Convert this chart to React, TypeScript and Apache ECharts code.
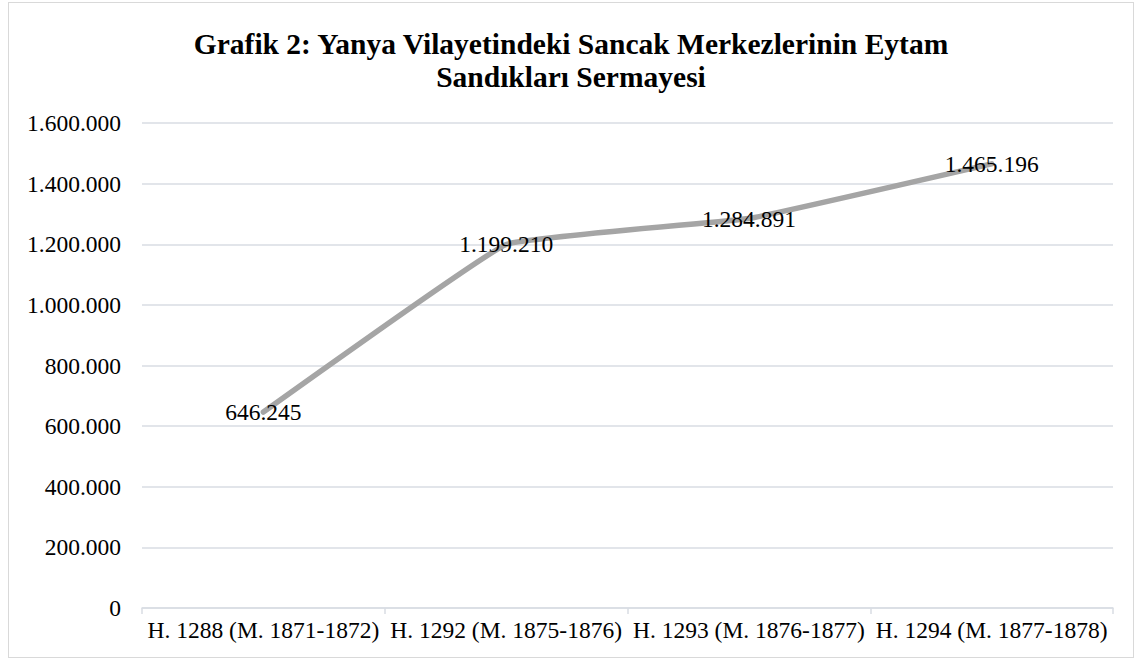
import React, { useEffect, useRef } from "react";
import * as echarts from "echarts";

const titleLines = [
  "Grafik 2: Yanya Vilayetindeki Sancak Merkezlerinin Eytam",
  "Sandıkları Sermayesi",
];
const categories = [
  "H. 1288 (M. 1871-1872)",
  "H. 1292 (M. 1875-1876)",
  "H. 1293 (M. 1876-1877)",
  "H. 1294 (M. 1877-1878)",
];
const capitalValues = [646245, 1199210, 1284891, 1465196];
const yMin = 0;
const yMax = 1600000;
const yStep = 200000;

const fmt = (v: number) =>
  String(Math.round(v)).replace(/\B(?=(\d{3})+(?!\d))/g, ".");

const FONT = "'Times New Roman', 'Liberation Serif', 'DejaVu Serif', serif";

export default function App() {
  const ref = useRef<HTMLDivElement>(null);
  useEffect(() => {
    if (!ref.current) return;
    const chart = echarts.init(ref.current, undefined, { renderer: "svg" });
    chart.setOption({
      animation: false,
      backgroundColor: "#ffffff",
      title: {
        text: titleLines.join("\n"),
        left: "center",
        top: 19,
        textStyle: {
          fontFamily: FONT,
          fontWeight: "bold",
          fontSize: 29.5,
          lineHeight: 33,
          color: "#000",
        },
      },
      grid: {
        left: 133,
        right: 20,
        top: 120,
        bottom: 49,
        containLabel: false,
        outerBoundsMode: "none",
      },
      xAxis: {
        type: "category",
        data: categories,
        boundaryGap: true,
        axisLine: { show: true, lineStyle: { color: "#d9dde3", width: 1.5 } },
        axisTick: { show: true, length: 6, lineStyle: { color: "#d9dde3", width: 1.5 } },
        axisLabel: {
          interval: 0,
          margin: 10,
          fontFamily: FONT,
          fontSize: 23.5,
          color: "#000",
        },
        splitLine: { show: false },
      },
      yAxis: {
        type: "value",
        min: yMin,
        max: yMax,
        interval: yStep,
        axisLine: { show: false },
        axisTick: { show: false },
        axisLabel: {
          margin: 21,
          fontFamily: FONT,
          fontSize: 23.5,
          color: "#000",
          formatter: (v: number) => fmt(v),
        },
        splitLine: { show: true, lineStyle: { color: "#d9dde3", width: 1.5 } },
      },
      series: [
        {
          type: "line",
          data: capitalValues,
          smooth: 0.08,
          symbol: "circle",
          symbolSize: 1,
          itemStyle: { color: "rgba(0,0,0,0)" },
          lineStyle: { color: "#a5a5a5", width: 5.5, cap: "round" },
          label: {
            show: true,
            position: "inside",
            fontFamily: FONT,
            fontSize: 23.5,
            color: "#000",
            formatter: (p: any) => fmt(p.value),
          },
        },
      ],
    });
    return () => chart.dispose();
  }, []);
  return (
    <div
      style={{
        position: "absolute",
        left: 8,
        top: 2,
        width: 1126,
        height: 656,
        border: "1px solid #d9d9d9",
        boxSizing: "border-box",
        background: "#fff",
      }}
    >
      <div ref={ref} style={{ width: 1124, height: 654 }} />
    </div>
  );
}
